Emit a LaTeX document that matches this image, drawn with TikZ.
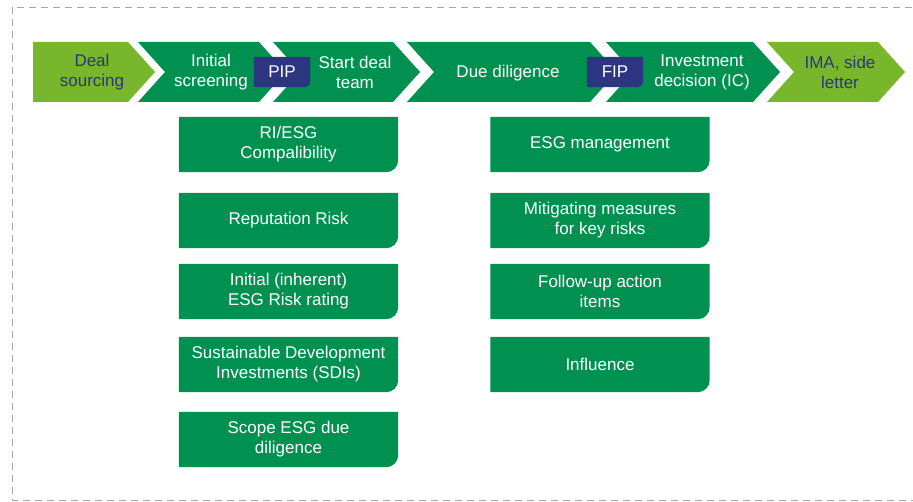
\documentclass[tikz,border=0pt]{standalone}
\usepackage{fontspec}
\setmainfont{Liberation Sans}
\usetikzlibrary{backgrounds}
\definecolor{esggreen}{HTML}{009150}
\definecolor{esglime}{HTML}{78B72B}
\definecolor{esgnavy}{HTML}{2B3580}
\definecolor{framegrey}{HTML}{A8A8A8}
\tikzset{
    steplabel/.style={align=center, text=white, inner sep=0pt,
        font=\fontsize{17}{20}\selectfont},
    limelabel/.style={steplabel, text=esgnavy},
    esgbox/.style={align=center, text=white, inner sep=0pt,
        minimum width=219pt, minimum height=55pt,
        font=\fontsize{17}{20}\selectfont},
    tagbox/.style={align=center, text=white, inner sep=0pt,
        minimum width=56pt, minimum height=30pt,
        font=\fontsize{17}{20}\selectfont},
}
% #1 left x, #2 top right x, #3 notch depth, #4 colour
\newcommand\chevron[4]{%
    \fill[#4] (#1,42) -- (#2,42) -- ++(27,30) -- (#2,102) -- (#1,102)
        -- ++(#3,-30) -- cycle;}
% fill a node with only its south east corner rounded
\newcommand\cornerfill[3]{%
    \fill[#1] (#2.north west) -- (#2.north east)
        -- ([yshift=#3]#2.south east) arc[start angle=0, end angle=-90, radius=#3]
        -- (#2.south west) -- cycle;}
\begin{document}
\begin{tikzpicture}[x=1pt, y=-1pt]
    \useasboundingbox (0,0) rectangle (913,502);
    \draw[framegrey, line width=0.9pt, dash pattern=on 7pt off 5pt]
        (12,7) rectangle (935,500);

    % process steps
    \node[limelabel] (deal) at (92,72) {Deal\\sourcing};
    \node[steplabel] (screen) at (211,72) {Initial\\screening};
    \node[steplabel] (team) at (355,72) {Start deal\\team};
    \node[steplabel] (dd) at (508,73) {Due diligence};
    \node[steplabel] (ic) at (702,72) {Investment\\decision (IC)};
    \node[limelabel] (ima) at (840,72) {IMA, side\\letter};

    \node[tagbox] (pip) at (282,72) {PIP};
    \node[tagbox] (fip) at (615,72) {FIP};

    % screening column
    \node[esgbox] (compat) at (288.5,144.5) {RI/ESG\\Compalibility};
    \node[esgbox] (rep) at (288.5,220.5) {Reputation Risk};
    \node[esgbox] (rating) at (288.5,291.5) {Initial (inherent)\\ESG Risk rating};
    \node[esgbox] (sdi) at (288.5,364.5) {Sustainable Development\\Investments (SDIs)};
    \node[esgbox] (scope) at (288.5,439.5) {Scope ESG due\\diligence};

    % due diligence column
    \node[esgbox] (mgmt) at (600,144.5) {ESG management};
    \node[esgbox] (mitig) at (600,220.5) {Mitigating measures\\for key risks};
    \node[esgbox] (follow) at (600,291.5) {Follow-up action\\items};
    \node[esgbox] (infl) at (600,364.5) {Influence};

    \begin{scope}[on background layer]
        \chevron{33}{128}{0}{esglime}
        \chevron{138}{259}{27}{esggreen}
        \chevron{273}{393}{27}{esggreen}
        \chevron{407}{590}{27}{esggreen}
        \chevron{606}{753}{27}{esggreen}
        \chevron{767}{878}{27}{esglime}
        \cornerfill{esgnavy}{pip}{6pt}
        \cornerfill{esgnavy}{fip}{6pt}
        \foreach \b in {compat,rep,rating,sdi,scope,mgmt,mitig,follow,infl}
            \cornerfill{esggreen}{\b}{12pt};
    \end{scope}
\end{tikzpicture}
\end{document}
